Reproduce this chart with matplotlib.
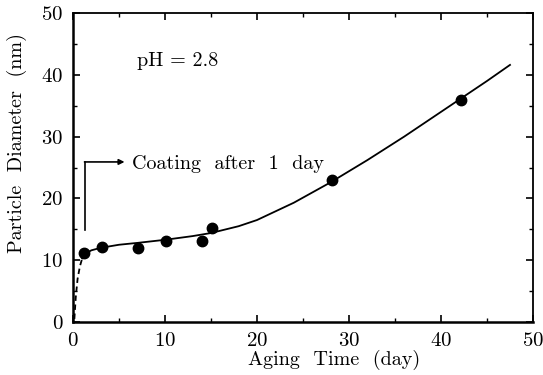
import matplotlib.pyplot as plt

plt.rcParams['font.family'] = 'serif'
plt.rcParams['font.serif'] = ['cmr10', 'DejaVu Serif']
plt.rcParams['axes.formatter.use_mathtext'] = True

# measured points
days = [1.2, 3.2, 7.1, 10.1, 14, 15.1, 28.1, 42.2]
diameter = [11.2, 12.2, 12.0, 13.1, 13.1, 15.2, 23.0, 35.9]

# fitted curve
fit_dash_x = [0.15, 0.3, 0.5, 0.75, 1.0]
fit_dash_y = [0.5, 4.0, 7.0, 9.0, 10.3]
fit_x = [1.0, 1.5, 2, 3, 5, 7, 10, 13, 15, 18, 20, 24, 28, 32, 36, 40, 42, 45, 47.5]
fit_y = [10.3, 11.2, 11.6, 12.0, 12.5, 12.8, 13.3, 13.9, 14.4, 15.5, 16.5, 19.3,
         22.6, 26.2, 30.0, 34.0, 36.0, 39.0, 41.6]

fig = plt.figure(figsize=(5.43, 3.75), dpi=100)
ax = fig.add_axes([73 / 543, 53 / 375, 460 / 543, 309 / 375])

ax.plot(fit_dash_x, fit_dash_y, 'k--', lw=1.3, dashes=(3, 2))
ax.plot(fit_x, fit_y, 'k-', lw=1.3)
ax.plot(days, diameter, 'ko', ms=7.5)

# bracket arrow for coating
ax.plot([1.3, 1.3], [14.9, 25.9], 'k-', lw=1.2)
ax.annotate('', xy=(5.6, 25.9), xytext=(1.25, 25.9),
            arrowprops=dict(arrowstyle='-|>', color='k', lw=1.2,
                            mutation_scale=8, shrinkA=0, shrinkB=0))
ax.text(6.4, 25.6, 'Coating  after  1  day', fontsize=14.5, va='center', ha='left')
ax.text(7.0, 42.2, 'pH = 2.8', fontsize=14.5, va='center', ha='left')

ax.set_xlim(0, 50)
ax.set_ylim(0, 50)
ax.set_xticks([0, 10, 20, 30, 40, 50])
ax.set_yticks([0, 10, 20, 30, 40, 50])
ax.set_xticks(range(5, 50, 10), minor=True)
ax.set_yticks(range(5, 50, 10), minor=True)
ax.tick_params(which='both', direction='in', top=True, right=True, labelsize=15)
ax.tick_params(which='major', length=5, width=1.2)
ax.tick_params(which='minor', length=3, width=1)
ax.tick_params(axis='x', which='major', pad=7)
ax.tick_params(axis='y', which='major', pad=7)

for s in ['left', 'bottom']:
    ax.spines[s].set_linewidth(1.8)
for s in ['top', 'right']:
    ax.spines[s].set_linewidth(1.3)

ax.set_xlabel('Aging  Time  (day)', fontsize=14.5)
ax.set_ylabel('Particle  Diameter  (nm)', fontsize=14.5)
ax.xaxis.set_label_coords(0.567, -0.09)
ax.yaxis.set_label_coords(-0.10, 0.58)

fig.savefig('out.png', dpi=100)
